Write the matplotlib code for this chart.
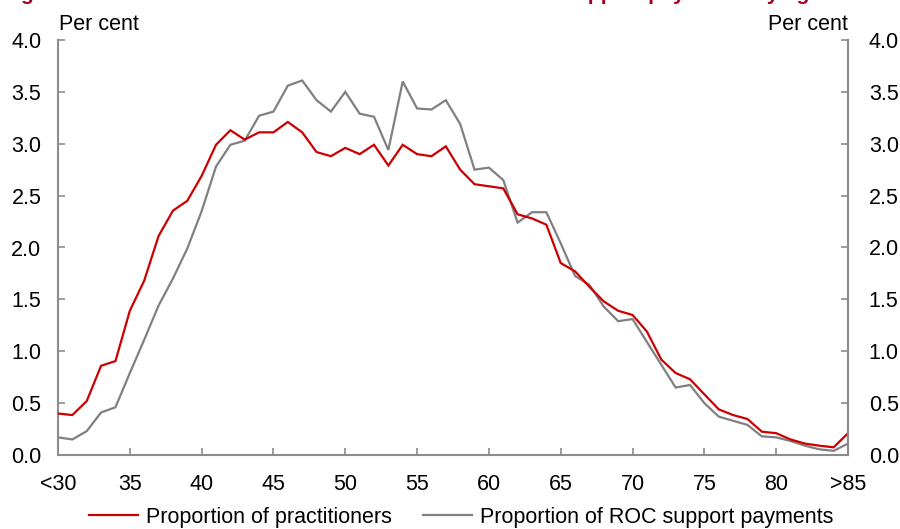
import matplotlib
matplotlib.use("Agg")
import matplotlib.pyplot as plt
from matplotlib.ticker import MultipleLocator, FixedLocator, FixedFormatter

ages = list(range(30, 86))
practitioners = [0.40, 0.385, 0.52, 0.86, 0.905, 1.39, 1.68, 2.11, 2.355, 2.45,
                 2.69, 2.99, 3.13, 3.04, 3.11, 3.11, 3.21, 3.11, 2.92, 2.88,
                 2.96, 2.90, 2.99, 2.79, 2.99, 2.90, 2.88, 2.975, 2.75, 2.61,
                 2.59, 2.57, 2.32, 2.28, 2.22, 1.85, 1.77, 1.62, 1.48, 1.39,
                 1.35, 1.19, 0.92, 0.79, 0.73, 0.585, 0.44, 0.385, 0.347, 0.225,
                 0.21, 0.15, 0.11, 0.09, 0.074, 0.21]
roc_payments = [0.17, 0.15, 0.23, 0.41, 0.46, 0.79, 1.11, 1.44, 1.70, 1.99,
                2.35, 2.78, 2.99, 3.03, 3.27, 3.31, 3.56, 3.61, 3.42, 3.31,
                3.50, 3.29, 3.26, 2.94, 3.60, 3.34, 3.33, 3.42, 3.19, 2.75,
                2.77, 2.65, 2.24, 2.34, 2.34, 2.04, 1.725, 1.64, 1.43, 1.29,
                1.31, 1.09, 0.87, 0.65, 0.675, 0.50, 0.37, 0.33, 0.29, 0.18,
                0.17, 0.135, 0.09, 0.055, 0.04, 0.11]
xtick_pos = [30, 35, 40, 45, 50, 55, 60, 65, 70, 75, 80, 85]
xtick_labels = ["<30", "35", "40", "45", "50", "55", "60", "65", "70", "75", "80", ">85"]
title_text = "Figure 10: Distribution of ROC members and total ROC support payments by age"

plt.rcParams['font.family'] = ['Liberation Sans', 'DejaVu Sans']
FS = 15.5
RED = '#CC0000'
GREY = '#808080'
SPINE = '#8c8c8c'

fig = plt.figure(figsize=(9, 5.29), dpi=100)
W, H = 900, 529
ax = fig.add_axes([58 / W, 1 - 455 / H, (848 - 58) / W, (455 - 40) / H])

l1, = ax.plot(ages, practitioners, color=RED, lw=1.6, label='Proportion of practitioners',
              solid_joinstyle='miter', zorder=3)
l2, = ax.plot(ages, roc_payments, color=GREY, lw=1.6, label='Proportion of ROC support payments',
              solid_joinstyle='miter', zorder=2)

ax.set_xlim(30, 85)
ax.set_ylim(0, 4)
ax.xaxis.set_major_locator(FixedLocator(xtick_pos))
ax.xaxis.set_major_formatter(FixedFormatter(xtick_labels))
ax.yaxis.set_major_locator(MultipleLocator(0.5))
ax.yaxis.set_major_formatter(plt.FuncFormatter(lambda v, p: f"{v:.1f}"))

for s in ['left', 'right', 'bottom']:
    ax.spines[s].set_color(SPINE)
    ax.spines[s].set_linewidth(1.5)
ax.spines['top'].set_visible(False)

ax.tick_params(axis='x', direction='in', length=5, width=1.2, color=SPINE,
               labelsize=FS, pad=14)
ax.tick_params(axis='y', direction='in', length=5, width=1.2, color=SPINE,
               labelsize=FS, pad=12, left=True, right=False)

ax2 = ax.twinx()
ax2.set_ylim(0, 4)
ax2.yaxis.set_major_locator(MultipleLocator(0.5))
ax2.yaxis.set_major_formatter(plt.FuncFormatter(lambda v, p: f"{v:.1f}"))
ax2.tick_params(axis='y', direction='in', length=5, width=1.2, color=SPINE,
                labelsize=FS, pad=15)
for s in ['left', 'top', 'bottom']:
    ax2.spines[s].set_visible(False)
ax2.spines['right'].set_color(SPINE)
ax2.spines['right'].set_linewidth(1.5)

fig.text(59 / W, 1 - 24 / H, 'Per cent', fontsize=FS, ha='left', va='center')
fig.text(848 / W, 1 - 24 / H, 'Per cent', fontsize=FS, ha='right', va='center')

fig.text(2 / W, 1.0, title_text, fontsize=15.3, fontweight='bold', color='#A50021',
         ha='left', va='baseline')

fig.legend(handles=[l1, l2], loc='center', bbox_to_anchor=(461 / W, 1 - 517 / H),
           ncol=2, frameon=False, fontsize=FS, handlelength=2.3, handletextpad=0.35,
           columnspacing=1.45, borderpad=0, borderaxespad=0)

fig.savefig('out.png', dpi=100)
